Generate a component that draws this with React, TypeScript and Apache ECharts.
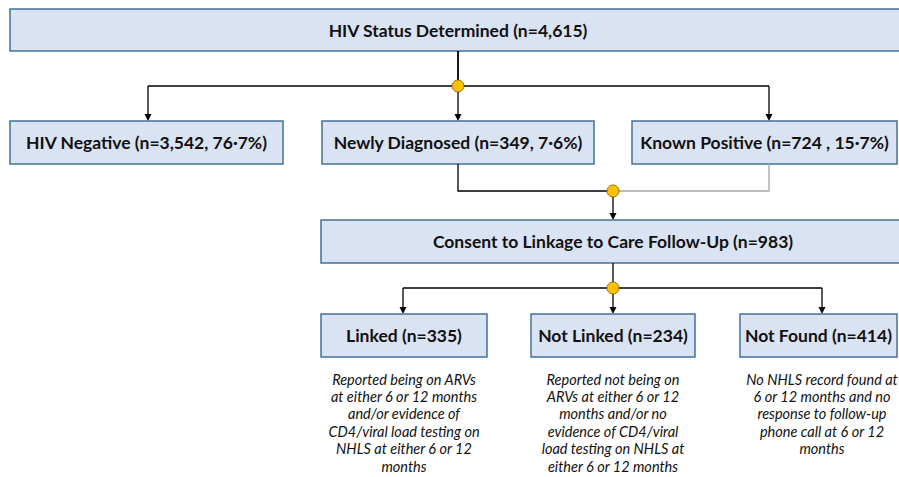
import React, { useEffect, useRef } from "react";
import * as echarts from "echarts";

const topLabel = "HIV Status Determined (n=4,615)";
const statusLabels = [
  "HIV Negative (n=3,542, 76·7%)",
  "Newly Diagnosed (n=349, 7·6%)",
  "Known Positive (n=724 , 15·7%)",
];
const consentLabel = "Consent to Linkage to Care Follow-Up (n=983)";
const outcomeLabels = ["Linked (n=335)", "Not Linked (n=234)", "Not Found (n=414)"];
const outcomeNotes = [
  [
    "Reported being on ARVs",
    "at either 6 or 12 months",
    "and/or evidence of",
    "CD4/viral load testing on",
    "NHLS at either 6 or 12",
    "months",
  ],
  [
    "Reported not being on",
    "ARVs at either 6 or 12",
    "months and/or no",
    "evidence of CD4/viral",
    "load testing on NHLS at",
    "either 6 or 12 months",
  ],
  [
    "No NHLS record found at",
    "6 or 12 months and no",
    "response to follow-up",
    "phone call at 6 or 12",
    "months",
  ],
];

const FONT = "Lato, 'Noto Sans', sans-serif";
const BOX_FILL = "#dae3f3";
const BOX_STROKE = "#41719c";

function boxCenter(x: number, y: number, w: number, h: number, cx: number, label: string) {
  return [
    {
      type: "rect",
      shape: { x, y, width: w, height: h },
      style: { fill: BOX_FILL, stroke: BOX_STROKE, lineWidth: 1.5 },
    },
    {
      type: "text",
      x: cx,
      y: y + h / 2,
      style: {
        text: label,
        fill: "#111",
        font: `bold 17.5px ${FONT}`,
        align: "center",
        verticalAlign: "middle",
      },
    },
  ];
}

function box(x: number, y: number, w: number, h: number, label: string) {
  return boxCenter(x, y, w, h, x + w / 2, label);
}

function line(pts: number[][], color = "#000", w = 1.3) {
  return {
    type: "polyline",
    shape: { points: pts },
    style: { stroke: color, lineWidth: w, fill: "none" },
  };
}

function arrow(x: number, y1: number, y2: number) {
  return [
    line([
      [x, y1],
      [x, y2 - 5],
    ]),
    {
      type: "polygon",
      shape: {
        points: [
          [x - 3.5, y2 - 7],
          [x + 3.5, y2 - 7],
          [x, y2],
        ],
      },
      style: { fill: "#000" },
    },
  ];
}

function dot(x: number, y: number) {
  return {
    type: "circle",
    shape: { cx: x, cy: y, r: 6 },
    style: { fill: "#ffc000", stroke: "#7f6000", lineWidth: 0.8 },
    z: 10,
  };
}

export default function App() {
  const ref = useRef<HTMLDivElement>(null);
  useEffect(() => {
    document.body.style.margin = "0";
    const chart = echarts.init(ref.current!, null, { renderer: "svg" });
    const els: any[] = [];

    els.push(...boxCenter(10, 9, 900, 42, 458, topLabel));
    els.push(line([[458, 51], [458, 86]], "#000", 1.8));
    els.push(line([[148, 86], [769, 86]]));
    [148, 458, 769].forEach((x) => els.push(...arrow(x, 86, 121)));
    els.push(dot(458, 86));

    const statusX = [
      [10, 273],
      [322, 272],
      [632, 265],
    ];
    statusLabels.forEach((lab, i) => {
      els.push(...box(statusX[i][0], 121, statusX[i][1], 43, lab));
    });

    els.push(line([[458, 164], [458, 191], [613, 191]]));
    els.push(line([[613, 191], [769, 191], [769, 164]], "#a6a6a6"));
    els.push(...arrow(613, 191, 220));
    els.push(dot(613, 191));

    els.push(...boxCenter(321, 220, 600, 43, 613, consentLabel));

    els.push(line([[613, 263], [613, 288]]));
    els.push(line([[403, 288], [822, 288]]));
    [403, 613, 822].forEach((x) => els.push(...arrow(x, 288, 314)));
    els.push(dot(613, 288));

    const outX = [
      [321, 166],
      [531, 164],
      [740, 157],
    ];
    const noteCx = [404, 613, 822];
    outcomeLabels.forEach((lab, i) => {
      els.push(...box(outX[i][0], 314, outX[i][1], 43, lab));
      outcomeNotes[i].forEach((t, j) => {
        els.push({
          type: "text",
          x: noteCx[i],
          y: 379 + j * 17.4,
          style: {
            text: t,
            fill: "#111",
            font: `italic 14.5px ${FONT}`,
            align: "center",
            verticalAlign: "middle",
          },
        });
      });
    });

    chart.setOption({
      animation: false,
      backgroundColor: "#fff",
      graphic: { elements: els },
    });
    return () => chart.dispose();
  }, []);
  return <div ref={ref} style={{ width: 899, height: 477 }} />;
}
